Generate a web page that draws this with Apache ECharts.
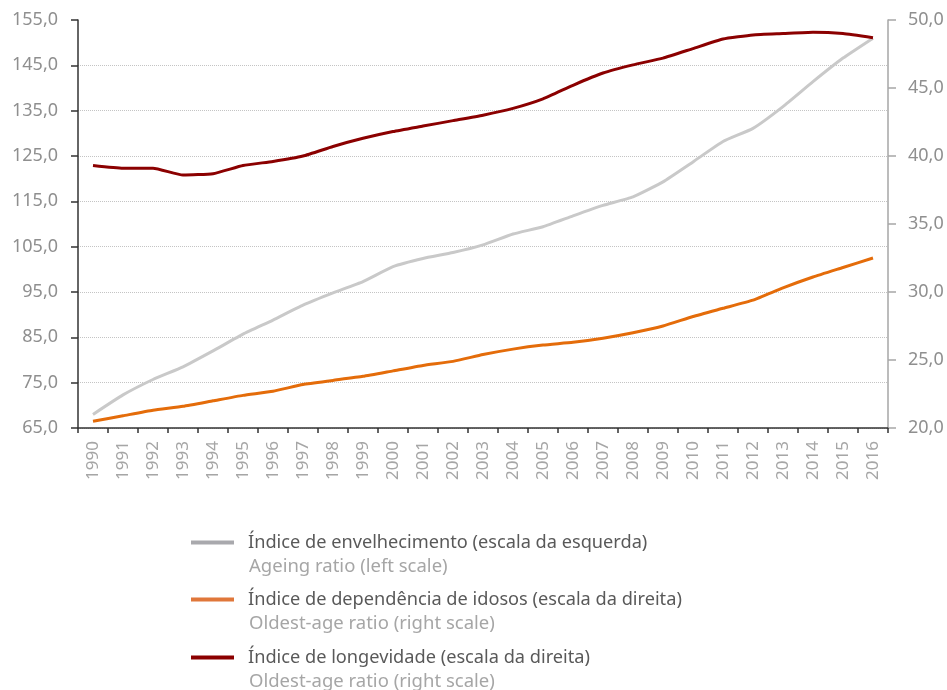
<!DOCTYPE html>
<html>
<head>
<meta charset="utf-8">
<script src="https://cdn.jsdelivr.net/npm/echarts@6/dist/echarts.min.js"></script>
<style>
  html, body { margin: 0; padding: 0; background: #fff; }
  #chart { width: 947px; height: 690px; }
</style>
</head>
<body>
<div id="chart"></div>
<script>
var years = ['1990', '1991', '1992', '1993', '1994', '1995', '1996', '1997', '1998', '1999',
  '2000', '2001', '2002', '2003', '2004', '2005', '2006', '2007', '2008', '2009',
  '2010', '2011', '2012', '2013', '2014', '2015', '2016'];

// Índice de envelhecimento (left scale)
var ageing = [68.0, 72.3, 75.7, 78.5, 82.0, 85.7, 88.8, 92.1, 94.8, 97.3,
  100.6, 102.4, 103.7, 105.4, 107.8, 109.4, 111.8, 114.1, 116.0, 119.3,
  123.7, 128.2, 131.1, 135.9, 141.4, 146.6, 151.0];

// Índice de dependência de idosos (right scale)
var dependency = [20.5, 20.9, 21.3, 21.6, 22.0, 22.4, 22.7, 23.2, 23.5, 23.8,
  24.2, 24.6, 24.9, 25.4, 25.8, 26.1, 26.3, 26.6, 27.0, 27.5,
  28.2, 28.8, 29.4, 30.3, 31.1, 31.8, 32.5];

// Índice de longevidade (right scale)
var longevity = [39.3, 39.1, 39.1, 38.6, 38.7, 39.3, 39.6, 40.0, 40.7, 41.3,
  41.8, 42.2, 42.6, 43.0, 43.5, 44.2, 45.2, 46.1, 46.7, 47.2,
  47.9, 48.6, 48.9, 49.0, 49.1, 49.0, 48.7];

var leftTicks = { min: 65, max: 155, interval: 10 };
var rightTicks = { min: 20, max: 50, interval: 5 };

var names = [
  'Índice de envelhecimento (escala da esquerda)',
  'Índice de dependência de idosos (escala da direita)',
  'Índice de longevidade (escala da direita)'
];
var subtitles = [
  'Ageing ratio (left scale)',
  'Oldest-age ratio (right scale)',
  'Oldest-age ratio (right scale)'
];
var legendColors = ['#a9a9ad', '#e0773a', '#8b0000'];

var FONT = '"Noto Sans", "Open Sans", sans-serif';

function fmt(v) { return v.toFixed(1).replace('.', ','); }

// one legend per series so the icon lines up with the first text line
var legendTops = [510, 567, 625];
var legends = names.map(function (n, i) {
  return {
    orient: 'vertical',
    left: 191,
    top: legendTops[i],
    padding: 0,
    itemWidth: 43,
    itemHeight: 4,
    icon: 'rect',
    selectedMode: false,
    data: [{ name: n, itemStyle: { color: legendColors[i] } }],
    formatter: function (name) {
      return '{e| }\n{a|' + name + '}\n{b|' + subtitles[i] + '}';
    },
    textStyle: {
      rich: {
        e: { fontSize: 17, lineHeight: 24 },
        a: { fontSize: 18.2, lineHeight: 24, color: '#595959', fontFamily: FONT, padding: [0, 0, 0, 9] },
        b: { fontSize: 18.5, lineHeight: 24, color: '#a6a6a6', fontFamily: FONT, padding: [0, 0, 0, 10] }
      }
    }
  };
});

var chart = echarts.init(document.getElementById('chart'), null, { renderer: 'canvas' });

chart.setOption({
  animation: false,
  textStyle: { fontFamily: FONT },
  grid: { left: 78, right: 59, top: 20, bottom: 262 },
  xAxis: {
    type: 'category',
    data: years,
    boundaryGap: true,
    axisLine: { lineStyle: { color: '#333', width: 1.5 } },
    axisTick: { show: true, length: 5, interval: 0, lineStyle: { color: '#333', width: 1.5 } },
    axisLabel: { rotate: 90, interval: 0, margin: 13, color: '#a6a6a6', fontSize: 17, fontFamily: FONT }
  },
  yAxis: [
    {
      type: 'value',
      min: leftTicks.min, max: leftTicks.max, interval: leftTicks.interval,
      axisLine: { show: true, lineStyle: { color: '#333', width: 1.5 } },
      axisTick: { show: true, length: 7, lineStyle: { color: '#333', width: 1.5 } },
      axisLabel: { margin: 20, color: '#8f8f8f', fontSize: 18, fontFamily: FONT, formatter: fmt },
      splitLine: { show: true, showMaxLine: false, lineStyle: { color: '#c4c4c4', type: [1, 1], width: 1 } }
    },
    {
      type: 'value',
      position: 'right',
      min: rightTicks.min, max: rightTicks.max, interval: rightTicks.interval,
      axisLine: { show: true, lineStyle: { color: '#a6a6a6', width: 1.5 } },
      axisTick: { show: true, length: 8, lineStyle: { color: '#a6a6a6', width: 1.5 } },
      axisLabel: { margin: 20, color: '#8f8f8f', fontSize: 18, fontFamily: FONT, formatter: fmt },
      splitLine: { show: false }
    }
  ],
  legend: legends,
  series: [
    {
      name: names[0], type: 'line', yAxisIndex: 0, data: ageing,
      smooth: 0.15, showSymbol: false, color: '#c9c9c9',
      lineStyle: { color: '#c9c9c9', width: 3 }
    },
    {
      name: names[1], type: 'line', yAxisIndex: 1, data: dependency,
      smooth: 0.15, showSymbol: false, color: '#e46c0a',
      lineStyle: { color: '#e46c0a', width: 3 }
    },
    {
      name: names[2], type: 'line', yAxisIndex: 1, data: longevity,
      smooth: 0.15, showSymbol: false, color: '#8b0000',
      lineStyle: { color: '#8b0000', width: 3 }
    }
  ]
});
</script>
</body>
</html>
